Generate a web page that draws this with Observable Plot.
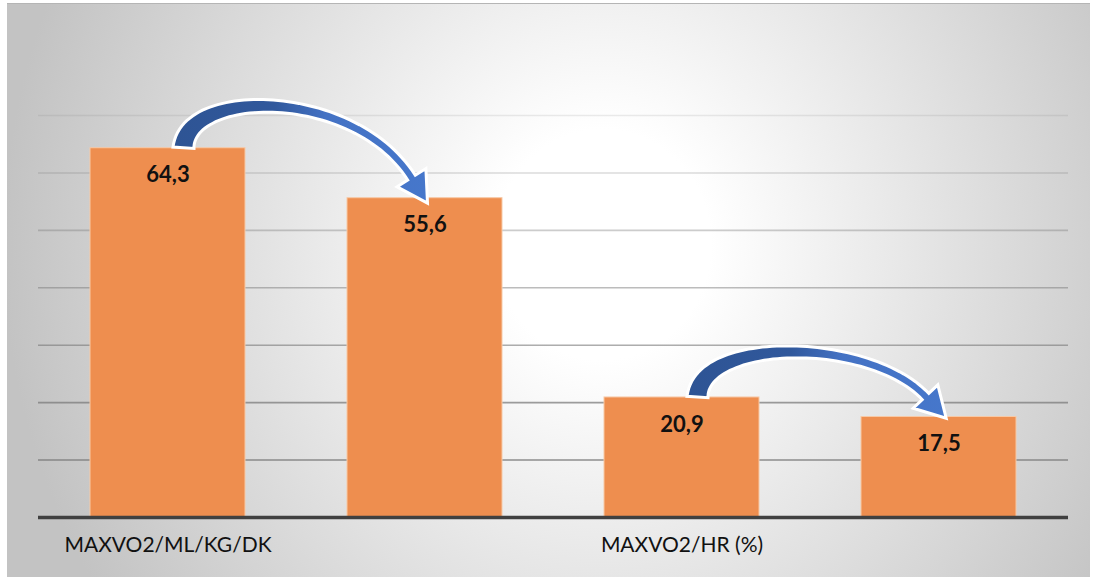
<!DOCTYPE html>
<html><head><meta charset="utf-8">
<script src="https://cdn.jsdelivr.net/npm/d3@7"></script>
<script src="https://cdn.jsdelivr.net/npm/@observablehq/plot@0.6"></script>
<style>
html,body{margin:0;padding:0;background:#fff;}
#box{position:absolute;left:7px;top:3px;width:1083px;height:574px;
 background: radial-gradient(ellipse 600px 640px at 55% 42%, #ffffff 0%, #ffffff 18%, #c3c3c3 100%);
 border-top:1px solid #b5b5b5; box-sizing:border-box;}
#box svg{position:absolute;left:0;top:-1px;overflow:visible;}
</style></head><body><div id="box"></div>
<script>
// ---- data ----
const groups = ["MAXVO2/ML/KG/DK", "MAXVO2/HR (%)"];
const periods = ["1", "2"];
const values = [64.3, 55.6, 20.9, 17.5];
const gridTicks = [10, 20, 30, 40, 50, 60, 70];
const arrowPairs = [[0, 1], [2, 3]];

const data = values.map((v, i) => ({
  group: groups[Math.floor(i / 2)],
  period: periods[i % 2],
  key: groups[Math.floor(i / 2)] + "#" + periods[i % 2],
  value: v
}));
const fmt = v => v.toFixed(1).replace(".", ",");

const W = 1083, H = 574;
const plot = Plot.plot({
  width: W, height: H,
  marginLeft: 31, marginRight: 22, marginTop: 112, marginBottom: 60,
  style: {background: "transparent", overflow: "visible"},
  x: {domain: data.map(d => d.key), paddingInner: 0.395, paddingOuter: 0.1975, axis: null},
  y: {domain: [0, 70], axis: null},
  marks: [
    Plot.ruleY(gridTicks, {stroke: "#7a7a7a", strokeWidth: 1.6, strokeOpacity: d => 0.85 - 0.7 * (d - 10) / 60}),
    Plot.barY(data, {x: "key", y: "value", fill: "#EE8E4F", stroke: "#F7C9A6", strokeWidth: 1}),
    Plot.ruleY([0], {stroke: "#404040", strokeWidth: 3.5}),
    Plot.text(data, {x: "key", y: "value", text: d => fmt(d.value), dy: 27,
      fontWeight: "bold", fontSize: 22, fill: "#111", fontFamily: "Lato, Liberation Sans, sans-serif"}),
    Plot.text(data.filter(d => d.period === "1"), {x: "key", text: "group", frameAnchor: "bottom",
      dy: 34, fontSize: 21, fill: "#111", fontFamily: "Lato, Liberation Sans, sans-serif"})
  ]
});
document.getElementById("box").appendChild(plot);

// ---- curved arrows, positioned with the plot's own scales ----
const xs = plot.scale("x"), ys = plot.scale("y");
const cx = k => xs.apply(k) + xs.bandwidth / 2;
const svg = d3.select(plot);
const defs = svg.append("defs");
const grad = defs.append("linearGradient").attr("id", "arrowGrad")
  .attr("x1", "0").attr("x2", "1").attr("y1", "0").attr("y2", "0");
grad.append("stop").attr("offset", "0").attr("stop-color", "#2E5494");
grad.append("stop").attr("offset", "0.40").attr("stop-color", "#30589C");
grad.append("stop").attr("offset", "0.60").attr("stop-color", "#4472C4");
grad.append("stop").attr("offset", "1").attr("stop-color", "#4677CB");

function bez(P0, P1, P2, P3, t) {
  const u = 1 - t;
  return [
    u*u*u*P0[0] + 3*u*u*t*P1[0] + 3*u*t*t*P2[0] + t*t*t*P3[0],
    u*u*u*P0[1] + 3*u*u*t*P1[1] + 3*u*t*t*P2[1] + t*t*t*P3[1]
  ];
}
function bezD(P0, P1, P2, P3, t) {
  const u = 1 - t;
  return [
    3*u*u*(P1[0]-P0[0]) + 6*u*t*(P2[0]-P1[0]) + 3*t*t*(P3[0]-P2[0]),
    3*u*u*(P1[1]-P0[1]) + 6*u*t*(P2[1]-P1[1]) + 3*t*t*(P3[1]-P2[1])
  ];
}
function arrowPath(x0, y0, tipx, tipy, ctrlY) {
  const HL = 30, HW = 17;
  const P0 = [x0, y0], P3 = [tipx - 10, tipy - 28];
  const P1 = [x0 + 4, ctrlY + 2], P2 = [x0 + 0.72 * (tipx - x0), ctrlY + 2];
  const N = 60, L = [], R = [];
  for (let i = 0; i <= N; i++) {
    const t = i / N;
    const p = bez(P0, P1, P2, P3, t), d = bezD(P0, P1, P2, P3, t);
    const len = Math.hypot(d[0], d[1]);
    const n = [-d[1] / len, d[0] / len];
    const w = (9 + 12 * (1 - t) * (1 - t)) / 2;
    L.push([p[0] + n[0] * w, p[1] + n[1] * w]);
    R.push([p[0] - n[0] * w, p[1] - n[1] * w]);
  }
  const d = bezD(P0, P1, P2, P3, 1), len = Math.hypot(d[0], d[1]);
  const u = [d[0] / len, d[1] / len], n = [-u[1], u[0]];
  const hl = [P3[0] + n[0] * HW, P3[1] + n[1] * HW];
  const hr = [P3[0] - n[0] * HW, P3[1] - n[1] * HW];
  const tip = [P3[0] + u[0] * HL, P3[1] + u[1] * HL];
  const pts = [...L, hl, tip, hr, ...R.reverse()];
  return "M" + pts.map(p => p[0].toFixed(1) + "," + p[1].toFixed(1)).join("L") + "Z";
}
const ag = svg.append("g");
for (const [a, b] of arrowPairs) {
  const da = data[a], db = data[b];
  const ya = ys.apply(da.value), yb = ys.apply(db.value);
  const x0 = cx(da.key) + 16, tipx = cx(db.key) - 3, tipy = yb + 8;
  const ctrlY = Math.min(ya, yb) - 62;
  ag.append("path").attr("d", arrowPath(x0, ya, tipx, tipy, ctrlY))
    .attr("fill", "url(#arrowGrad)").attr("stroke", "#fff").attr("stroke-width", 3)
    .attr("stroke-linejoin", "miter");
}
</script>
</body></html>
